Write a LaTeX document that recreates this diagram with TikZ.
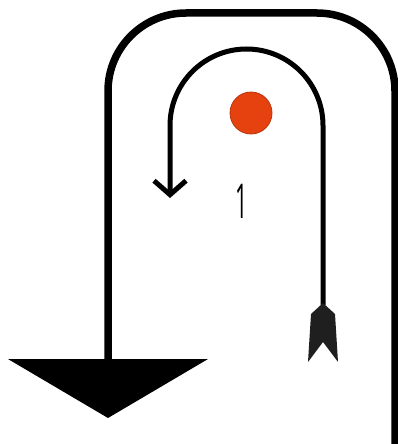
\documentclass[tikz,border=0pt]{standalone}
\usepackage{fontspec}
\newfontfamily\tagfont{Open Sans}
\usetikzlibrary{arrows.meta}
\definecolor{dotred}{RGB}{230,66,16}
\tikzset{
  wall/.style={line width=7.5pt, rounded corners=78pt, -{Triangle[length=59pt,width=199pt]}},
  turn/.style={line width=5pt, rounded corners=76.5pt, -{Straight Barb[length=14pt,width=32pt]}},
  fletch/.style={fill=black!88, rounded corners=0.5pt},
  spot/.style={circle, fill=dotred, draw=dotred!80!black, line width=0.8pt,
    minimum size=42pt, inner sep=0pt},
  tag/.style={font=\tagfont\fontsize{48}{48}\selectfont, inner sep=0pt, xscale=0.45, transform shape}
}
\begin{document}
\begin{tikzpicture}[x=1pt, y=-1pt]
  \useasboundingbox (0,0) rectangle (398,444);

  % outer route, down to the big head
  \coordinate (wstart) at (395,444);
  \coordinate (wtop) at (108,13);
  \coordinate (wend) at (108,418);
  \draw[wall] (wstart) -- (395,13) -- (wtop) -- (wend);

  % inner u-turn arrow with its tail
  \coordinate (tail) at (323,305);
  \coordinate (tip) at (170,198);
  \draw[turn] (tail) -- (323,49) -- (170,49) -- (tip);
  \fill[fletch] (323,303) -- (335,314) -- (338,362) -- (323,342)
    -- (308,362) -- (311,314) -- cycle;

  \node[spot] (dot) at (251,113) {};
  \node[tag] (num) at (242,201) {1};
\end{tikzpicture}
\end{document}
